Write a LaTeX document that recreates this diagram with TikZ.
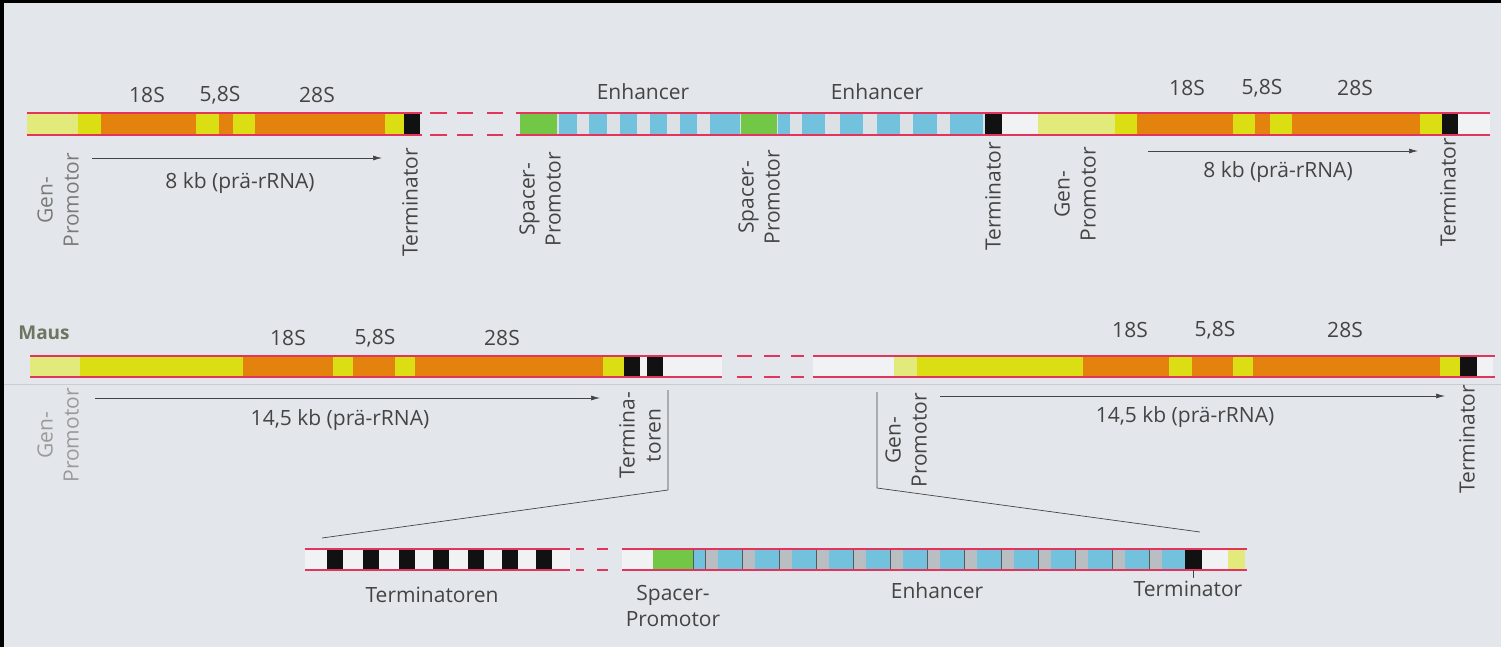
\documentclass[tikz,border=0pt]{standalone}
\usepackage{fontspec}
\setmainfont{Open Sans}
\usetikzlibrary{arrows.meta}
\definecolor{bg}{HTML}{E3E7EB}
\definecolor{lyel}{HTML}{E2EA7C}
\definecolor{yel}{HTML}{DCDE14}
\definecolor{ora}{HTML}{E4820E}
\definecolor{grn}{HTML}{72C846}
\definecolor{blu}{HTML}{72C2DE}
\definecolor{gry}{HTML}{B9BEC2}
\definecolor{wht}{HTML}{F0F2F3}
\definecolor{gapc}{HTML}{DCE1E5}
\definecolor{strand}{HTML}{E2345C}
\definecolor{txt}{HTML}{444444}
\definecolor{txtl}{HTML}{7A7A7A}
\definecolor{txtll}{HTML}{9A9A9A}
\definecolor{maus}{HTML}{6E7560}
\definecolor{blk}{HTML}{111111}
\definecolor{faint}{HTML}{C9CDD1}
\begin{document}
\begin{tikzpicture}[x=1pt,y=-1pt,
  every node/.style={font=\fontsize{21}{26}\selectfont, text=txt, inner sep=0pt},
  vlabel/.style={rotate=90, anchor=east, align=center},
  strandline/.style={draw=strand, line width=1.6pt},
  rnaarrow/.style={draw=txt, line width=0.7pt, -{Latex[length=9pt,width=5pt]}},
  bracket/.style={draw=txt, line width=0.7pt}]
\useasboundingbox (0,0) rectangle (1501,647);
\fill[bg] (0,0) rectangle (1501,647);
\fill[black] (0,0) rectangle (1501,3);
\fill[black] (0,0) rectangle (4,647);
\draw[faint, line width=1pt] (4,384) -- (1501,384);

% ---------- top row ----------
\foreach \c/\a/\b in {lyel/27/78, yel/78/101, ora/101/196, yel/196/219, ora/219/233, yel/233/255, ora/255/385, yel/385/404, blk/404/420}
  \fill[\c] (\a,114) rectangle (\b,134);
\fill[gapc] (520,114) rectangle (1038,134);
\foreach \c/\a/\b in {grn/520/557, blu/559/577, blu/589/607, blu/620/637, blu/650/667, blu/680/697, blu/710/740, grn/741/777, blu/778/790, blu/802/825, blu/840/863, blu/877/900, blu/913/937, blu/950/983, blk/985/1002, wht/1002/1038,
  lyel/1038/1115, yel/1115/1137, ora/1137/1233, yel/1233/1255, ora/1255/1270, yel/1270/1292, ora/1292/1420, yel/1420/1442, blk/1442/1458, wht/1458/1490}
  \fill[\c] (\a,114) rectangle (\b,134);
\foreach \y in {113,135}{
  \draw[strandline] (27,\y) -- (422,\y);
  \foreach \a/\b in {430/447, 457/473, 487/503} \draw[strandline] (\a,\y) -- (\b,\y);
  \draw[strandline] (516,\y) -- (1490,\y);
}
\node (t18a) at (147,95) {18S};
\node (t58a) at (220,95) {5,8S};
\node (t28a) at (317,95) {28S};
\node (enh1) at (643,92) {Enhancer};
\node (enh2) at (877,92) {Enhancer};
\node (t18b) at (1187,88) {18S};
\node (t58b) at (1262,88) {5,8S};
\node (t28b) at (1355,88) {28S};
\coordinate (a1s) at (92,158); \coordinate (a1e) at (382,158);
\draw[rnaarrow] (a1s) -- (a1e);
\node (kb1) at (240,183) {8 kb (prä-rRNA)};
\coordinate (a2s) at (1148,151); \coordinate (a2e) at (1418,151);
\draw[rnaarrow] (a2s) -- (a2e);
\node (kb2) at (1278,172) {8 kb (prä-rRNA)};
\node[vlabel, text=txtl] (gp1) at (58,153) {Gen-\\Promotor};
\node[vlabel] (tm1) at (410,148) {Terminator};
\node[vlabel] (sp1) at (540,152) {Spacer-\\Promotor};
\node[vlabel] (sp2) at (759,150) {Spacer-\\Promotor};
\node[vlabel] (tm2) at (993,142) {Terminator};
\node[vlabel] (gp2) at (1075,147) {Gen-\\Promotor};
\node[vlabel] (tm3) at (1448,138) {Terminator};

% ---------- Maus row ----------
\node[font=\fontsize{19}{22}\bfseries\selectfont, text=maus] (maus) at (44,333) {Maus};
\foreach \c/\a/\b in {lyel/30/80, yel/80/243, ora/243/333, yel/333/353, ora/353/395, yel/395/415, ora/415/603, yel/603/624, blk/624/640, wht/640/647, blk/647/663, wht/663/722,
  wht/813/894, lyel/894/917, yel/917/1083, ora/1083/1169, yel/1169/1192, ora/1192/1233, yel/1233/1253, ora/1253/1440, yel/1440/1460, blk/1460/1477, wht/1477/1493}
  \fill[\c] (\a,357) rectangle (\b,376);
\foreach \y in {356,377}{
  \draw[strandline] (30,\y) -- (722,\y);
  \foreach \a/\b in {737/752, 764/780, 791/804} \draw[strandline] (\a,\y) -- (\b,\y);
  \draw[strandline] (813,\y) -- (1495,\y);
}
\node (m18a) at (288,338) {18S};
\node (m58a) at (375,338) {5,8S};
\node (m28a) at (502,338) {28S};
\node (m18b) at (1130,330) {18S};
\node (m58b) at (1215,330) {5,8S};
\node (m28b) at (1345,330) {28S};
\coordinate (a3s) at (95,398); \coordinate (a3e) at (600,398);
\draw[rnaarrow] (a3s) -- (a3e);
\node (kb3) at (340,420) {14,5 kb (prä-rRNA)};
\coordinate (a4s) at (940,396); \coordinate (a4e) at (1445,396);
\draw[rnaarrow] (a4s) -- (a4e);
\node (kb4) at (1185,417) {14,5 kb (prä-rRNA)};
\node[vlabel, text=txtll] (gp3) at (58,388) {Gen-\\Promotor};
\node[vlabel] (tms) at (640,392) {Termina-\\toren};
\node[vlabel] (gp4) at (906,393) {Gen-\\Promotor};
\node[vlabel] (tm4) at (1467,385) {Terminator};
\coordinate (b1a) at (668,390); \coordinate (b1b) at (668,490); \coordinate (b1c) at (322,538);
\draw[bracket] (b1a) -- (b1b) -- (b1c);
\coordinate (b2a) at (877,392); \coordinate (b2b) at (877,488); \coordinate (b2c) at (1200,532);
\draw[bracket] (b2a) -- (b2b) -- (b2c);

% ---------- bottom detail ----------
\fill[wht] (305,550) rectangle (570,569);
\foreach \a in {327,363,399,433,468,502,536} \fill[blk] (\a,550) rectangle ({\a+16},569);
\fill[wht] (622,550) rectangle (653,569);
\fill[grn] (653,550) rectangle (693,569);
\fill[blu] (693,550) rectangle (1185,569);
\draw[gray!70!black, line width=0.5pt] (693,550) -- (693,569);
\foreach \i in {0,...,12} {
  \fill[gry] ({705+37*\i},550) rectangle ({718+37*\i},569);
  \draw[gray!70!black, line width=0.5pt] ({705+37*\i},550) -- ({705+37*\i},569);
}
\fill[blk] (1185,550) rectangle (1202,569);
\fill[wht] (1202,550) rectangle (1228,569);
\fill[lyel] (1228,550) rectangle (1245,569);
\foreach \y in {549,570}{
  \draw[strandline] (305,\y) -- (570,\y);
  \foreach \a/\b in {576/584, 597/608} \draw[strandline] (\a,\y) -- (\b,\y);
  \draw[strandline] (622,\y) -- (1247,\y);
}
\coordinate (tk1) at (1193,570); \coordinate (tk2) at (1193,578);
\draw[bracket] (tk1) -- (tk2);
\node (btm) at (432,595) {Terminatoren};
\node[align=center] (bsp) at (673,606) {Spacer-\\Promotor};
\node (benh) at (937,591) {Enhancer};
\node (btm2) at (1188,589) {Terminator};
\end{tikzpicture}
\end{document}
